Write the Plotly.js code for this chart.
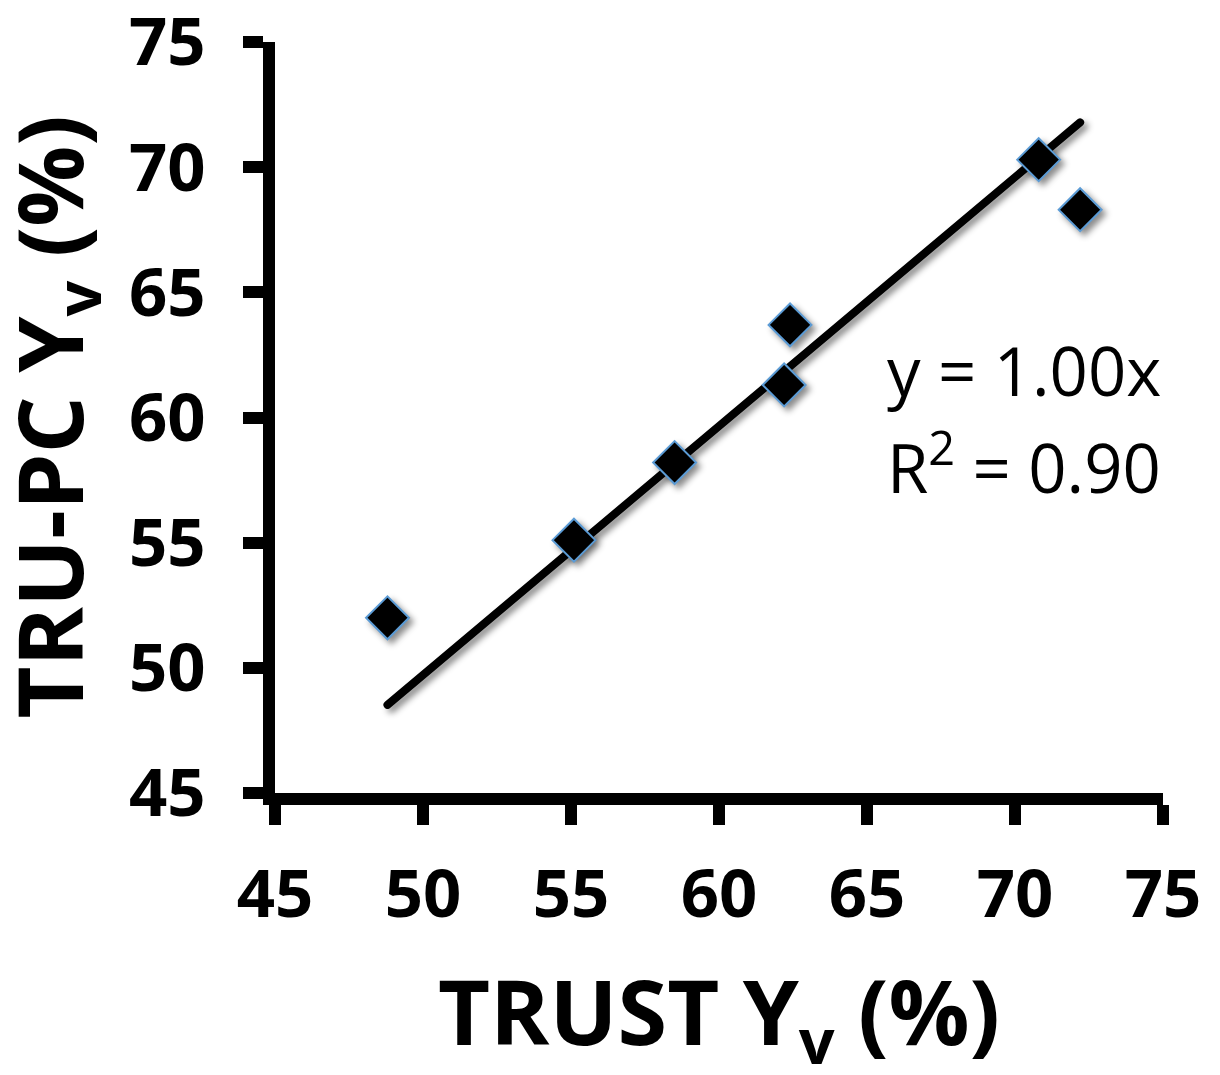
<!DOCTYPE html>
<html>
<head>
<meta charset="utf-8">
<script src="https://cdn.plot.ly/plotly-3.0.1.min.js"></script>
<style>
  html, body { margin: 0; padding: 0; background: #ffffff; }
  #chart { width: 1220px; height: 1075px; }
  .scatterlayer .trace { filter: drop-shadow(4px 4px 3px rgba(0,0,0,0.45)); }
  .scatterlayer path.js-line { stroke-linecap: round; }
</style>
</head>
<body>
<div id="chart"></div>
<script>
// Data
const trustYv = [48.8, 55.1, 58.5, 62.2, 62.4, 70.8, 72.2];
const truPcYv = [52.0, 55.1, 58.2, 61.3, 63.7, 70.3, 68.3];
const tickVals = [45, 50, 55, 60, 65, 70, 75];
const tickText = ['45', '50', '55', '60', '65', '70', '75'];
const xTitle = 'TRUST Y<sub>v</sub> (%)';
const yTitle = 'TRU-PC Y<sub>v</sub> (%)';
const eqnLines = ['y = 1.00x', 'R<sup>2</sup> = 0.90'];

// Linear trend line through the origin (least squares)
let sxy = 0, sxx = 0;
for (let i = 0; i < trustYv.length; i++) { sxy += trustYv[i] * truPcYv[i]; sxx += trustYv[i] * trustYv[i]; }
const slope = sxy / sxx;
const xMin = Math.min(...trustYv), xMax = Math.max(...trustYv);
const trendX = [xMin, xMax];
const trendY = trendX.map(v => slope * v);

const fontBold = 'Open Sans, Liberation Sans, Arial, sans-serif';
const titleFont = { family: fontBold, size: 90, color: '#000000', weight: 'bold' };
const eqnFont = { family: 'Open Sans, Liberation Sans, Arial, sans-serif', size: 67, color: '#000000' };

const traces = [
  {
    x: trendX, y: trendY, type: 'scatter', mode: 'lines',
    line: { color: '#000000', width: 8 },
    hoverinfo: 'skip', showlegend: false
  },
  {
    x: trustYv, y: truPcYv, type: 'scatter', mode: 'markers',
    marker: { symbol: 'diamond', size: 33, color: '#000000', line: { color: '#5b9bd5', width: 2 } },
    showlegend: false
  }
];

const axisCommon = {
  range: [45, 75],
  tickmode: 'array', tickvals: tickVals, ticktext: tickText,
  showgrid: false, zeroline: false,
  showline: true, linecolor: '#000000', linewidth: 12,
  ticks: 'outside', ticklen: 20, tickwidth: 12, tickcolor: '#000000',
  ticklabeloverflow: 'allow',
  tickfont: { family: fontBold, size: 67, color: '#000000', weight: 'bold' },
  automargin: false
};

const layout = {
  width: 1220, height: 1075,
  paper_bgcolor: '#ffffff', plot_bgcolor: '#ffffff',
  margin: { l: 275, r: 57, t: 42, b: 282 },
  showlegend: false,
  xaxis: Object.assign({}, axisCommon, { ticklabelstandoff: 12 }),
  yaxis: Object.assign({}, axisCommon, { ticklabelstandoff: 24 }),
  annotations: [
    {
      xref: 'paper', yref: 'paper', x: 0.5, y: 0, xanchor: 'center', yanchor: 'middle',
      yshift: -222, text: xTitle, showarrow: false, font: titleFont
    },
    {
      xref: 'paper', yref: 'paper', x: 0, y: 0.5, xanchor: 'center', yanchor: 'middle',
      xshift: -222, textangle: -90, text: yTitle, showarrow: false, font: titleFont
    },
    {
      xref: 'paper', yref: 'paper', x: 1.0, y: 0.50, xanchor: 'right', yanchor: 'bottom',
      text: eqnLines[0], showarrow: false, align: 'left', font: eqnFont
    },
    {
      xref: 'paper', yref: 'paper', x: 1.0, y: 0.37, xanchor: 'right', yanchor: 'bottom',
      text: eqnLines[1], showarrow: false, align: 'left', font: eqnFont
    }
  ]
};

Plotly.newPlot('chart', traces, layout, { displayModeBar: false, staticPlot: true });
</script>
</body>
</html>
